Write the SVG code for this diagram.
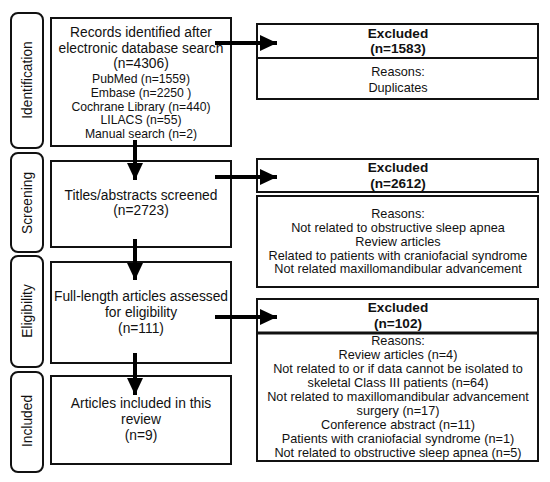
<svg xmlns="http://www.w3.org/2000/svg" width="550" height="482" viewBox="0 0 550 482">
<style>
.box{fill:#fff;stroke:#111;stroke-width:2}
.side{fill:#fff;stroke:#111;stroke-width:2}
text{font-family:"Liberation Sans",Arial,sans-serif;fill:#111;text-anchor:middle}
.t{font-size:13.8px}
.s{font-size:12.2px}
.r{font-size:12.7px}
.b{font-size:13.6px;font-weight:bold}
.lbl{font-size:13.8px}
.arr{stroke:#000;stroke-width:4;fill:none}
</style>
<defs>
<marker id="ah" markerUnits="userSpaceOnUse" markerWidth="18" markerHeight="16" refX="17" refY="8" orient="auto">
<path d="M0,0 L17,8 L0,16 Z" fill="#000"/>
</marker>
</defs>
<rect width="550" height="482" fill="#fff"/>
<g id="side-identification">
<rect class="side" x="11" y="13" width="32" height="135" rx="7"/>
<text class="lbl" transform="translate(32,80) rotate(-90)">Identification</text>
</g>
<g id="side-screening">
<rect class="side" x="11" y="153" width="32" height="99" rx="7"/>
<text class="lbl" transform="translate(32,203) rotate(-90)">Screening</text>
</g>
<g id="side-eligibility">
<rect class="side" x="11" y="256" width="32" height="111" rx="7"/>
<text class="lbl" transform="translate(32,311) rotate(-90)">Eligibility</text>
</g>
<g id="side-included">
<rect class="side" x="11" y="372" width="32" height="100" rx="7"/>
<text class="lbl" transform="translate(32,421) rotate(-90)">Included</text>
</g>
<g id="records">
<rect class="box" x="51" y="18" width="180" height="128"/>
<text class="t" x="141" y="37">Records identified after</text>
<text class="t" x="141" y="53">electronic database search</text>
<text class="t" x="141" y="68">(n=4306)</text>
<text class="s" x="141" y="83">PubMed (n=1559)</text>
<text class="s" x="141" y="97">Embase (n=2250 )</text>
<text class="s" x="141" y="111">Cochrane Library (n=440)</text>
<text class="s" x="141" y="124">LILACS (n=55)</text>
<text class="s" x="141" y="138">Manual search (n=2)</text>
</g>
<g id="screened">
<rect class="box" x="51" y="161" width="180" height="86"/>
<text class="t" x="141" y="200">Titles/abstracts screened</text>
<text class="t" x="141" y="215">(n=2723)</text>
</g>
<g id="fulltext">
<rect class="box" x="51" y="262" width="180" height="101"/>
<text class="t" x="141" y="301">Full-length articles assessed</text>
<text class="t" x="141" y="317">for eligibility</text>
<text class="t" x="141" y="333">(n=111)</text>
</g>
<g id="included">
<rect class="box" x="51" y="376" width="180" height="88"/>
<text class="t" x="141" y="408">Articles included in this</text>
<text class="t" x="141" y="424">review</text>
<text class="t" x="141" y="440">(n=9)</text>
</g>
<g id="excluded1">
<rect class="box" x="257" y="24" width="281" height="75"/>
<line x1="257" y1="58" x2="538" y2="58" stroke="#111" stroke-width="2"/>
<text class="b" x="398" y="38">Excluded</text>
<text class="b" x="398" y="53">(n=1583)</text>
<text class="r" x="398" y="76">Reasons:</text>
<text class="r" x="398" y="92">Duplicates</text>
</g>
<g id="excluded2">
<rect class="box" x="257" y="159" width="281" height="33"/>
<text class="b" x="398" y="172">Excluded</text>
<text class="b" x="398" y="188">(n=2612)</text>
<rect class="box" x="257" y="196" width="281" height="91"/>
<text class="r" x="398" y="218">Reasons:</text>
<text class="r" x="398" y="232">Not related to obstructive sleep apnea</text>
<text class="r" x="398" y="246">Review articles</text>
<text class="r" x="398" y="260">Related to patients with craniofacial syndrome</text>
<text class="r" x="398" y="273">Not related maxillomandibular advancement</text>
</g>
<g id="excluded3">
<rect class="box" x="257" y="299" width="281" height="162"/>
<line x1="257" y1="333" x2="538" y2="333" stroke="#111" stroke-width="3"/>
<text class="b" x="398" y="312">Excluded</text>
<text class="b" x="398" y="328">(n=102)</text>
<text class="r" x="398" y="345">Reasons:</text>
<text class="r" x="398" y="359">Review articles (n=4)</text>
<text class="r" x="398" y="373">Not related to or if data cannot be isolated to</text>
<text class="r" x="398" y="387">skeletal Class III patients (n=64)</text>
<text class="r" x="398" y="401">Not related to maxillomandibular advancement</text>
<text class="r" x="398" y="415">surgery (n=17)</text>
<text class="r" x="398" y="429">Conference abstract (n=11)</text>
<text class="r" x="398" y="443">Patients with craniofacial syndrome (n=1)</text>
<text class="r" x="398" y="457">Not related to obstructive sleep apnea (n=5)</text>
</g>
<g id="connectors">
<line class="arr" x1="215" y1="43" x2="277" y2="43" marker-end="url(#ah)"/>
<line class="arr" x1="215" y1="177" x2="277" y2="177" marker-end="url(#ah)"/>
<line class="arr" x1="215" y1="317" x2="277" y2="317" marker-end="url(#ah)"/>
<line class="arr" x1="135" y1="140" x2="135" y2="180" marker-end="url(#ah)"/>
<line class="arr" x1="135" y1="239" x2="135" y2="280" marker-end="url(#ah)"/>
<line class="arr" x1="135" y1="353" x2="135" y2="395" marker-end="url(#ah)"/>
</g>
</svg>
